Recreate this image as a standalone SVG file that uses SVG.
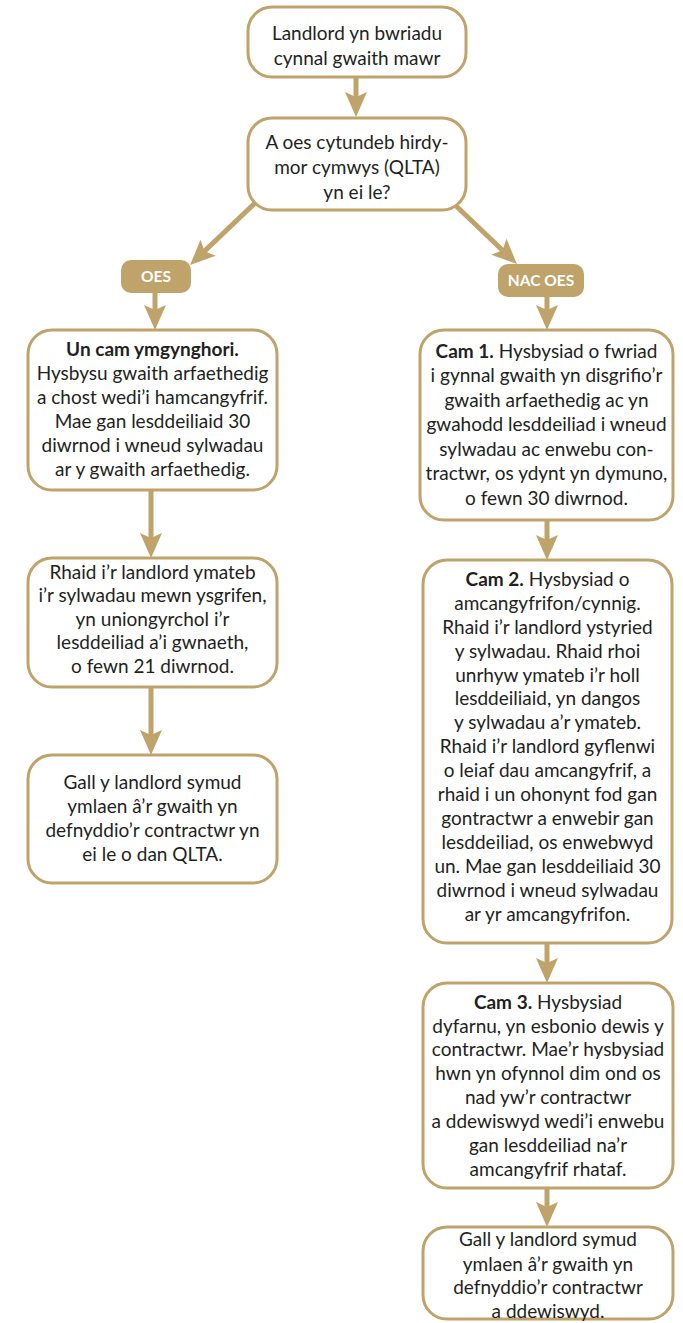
<svg xmlns="http://www.w3.org/2000/svg" width="683" height="1323" viewBox="0 0 683 1323">
<style>
.box{fill:#fff;stroke:#BFA36A;stroke-width:3}
.pill{fill:#BFA36A}
.t{font-family:Lato,"Open Sans","Liberation Sans",sans-serif;font-size:19px;fill:#231F20;text-anchor:middle}
.b{font-weight:bold}
.pt{font-family:Lato,"Open Sans","Liberation Sans",sans-serif;font-size:15.5px;font-weight:bold;fill:#fff;text-anchor:middle}
.c{stroke:#BFA36A;stroke-width:5;fill:none;marker-end:url(#ah)}
</style>
<defs>
<marker id="ah" markerUnits="userSpaceOnUse" markerWidth="30" markerHeight="30" viewBox="-12 -13 30 26" refX="0" refY="0" orient="auto">
<path d="M15,0 L-10,-11 L-5,0 L-10,11 Z" fill="#BFA36A"/>
</marker>
</defs>
<g id="connectors">
<line class="c" x1="356" y1="77" x2="356" y2="102"/>
<line class="c" x1="255" y1="203" x2="200.9" y2="254.6"/>
<line class="c" x1="453" y1="203" x2="506.1" y2="253.7"/>
<line class="c" x1="155" y1="293" x2="155" y2="315"/>
<line class="c" x1="547" y1="297" x2="547" y2="315"/>
<line class="c" x1="151" y1="490" x2="151" y2="543"/>
<line class="c" x1="151" y1="687" x2="151" y2="740"/>
<line class="c" x1="547" y1="520" x2="547" y2="545"/>
<line class="c" x1="547" y1="943" x2="547" y2="968"/>
<line class="c" x1="547" y1="1188" x2="547" y2="1212"/>
</g>
<g id="n1">
<rect class="box" x="248" y="7" width="218" height="70" rx="24"/>
<text class="t" x="357" y="40">Landlord yn bwriadu</text>
<text class="t" x="357" y="65">cynnal gwaith mawr</text>
</g>
<g id="n2">
<rect class="box" x="248" y="118" width="218" height="92" rx="24"/>
<text class="t" x="357" y="149">A oes cytundeb hirdy-</text>
<text class="t" x="357" y="174">mor cymwys (QLTA)</text>
<text class="t" x="357" y="199">yn ei le?</text>
</g>
<g id="oes">
<rect class="pill" x="121" y="260" width="70" height="33" rx="10"/>
<text class="pt" x="156" y="282">OES</text>
</g>
<g id="nacoes">
<rect class="pill" x="498" y="264" width="86" height="33" rx="10"/>
<text class="pt" x="541" y="286">NAC OES</text>
</g>
<g id="n3">
<rect class="box" x="28" y="330" width="249" height="160" rx="24"/>
<text class="t" x="152.5" y="356"><tspan class="b">Un cam ymgynghori.</tspan></text>
<text class="t" x="152.5" y="380">Hysbysu gwaith arfaethedig</text>
<text class="t" x="152.5" y="404">a chost wedi’i hamcangyfrif.</text>
<text class="t" x="152.5" y="428">Mae gan lesddeiliaid 30</text>
<text class="t" x="152.5" y="452">diwrnod i wneud sylwadau</text>
<text class="t" x="152.5" y="476">ar y gwaith arfaethedig.</text>
</g>
<g id="n5">
<rect class="box" x="28" y="558" width="249" height="129" rx="24"/>
<text class="t" x="152.5" y="579">Rhaid i’r landlord ymateb</text>
<text class="t" x="152.5" y="602">i’r sylwadau mewn ysgrifen,</text>
<text class="t" x="152.5" y="626">yn uniongyrchol i’r</text>
<text class="t" x="152.5" y="649">lesddeiliad a’i gwnaeth,</text>
<text class="t" x="152.5" y="673">o fewn 21 diwrnod.</text>
</g>
<g id="n6">
<rect class="box" x="28" y="755" width="249" height="128" rx="24"/>
<text class="t" x="152.5" y="789">Gall y landlord symud</text>
<text class="t" x="152.5" y="813">ymlaen â’r gwaith yn</text>
<text class="t" x="152.5" y="837">defnyddio’r contractwr yn</text>
<text class="t" x="152.5" y="861">ei le o dan QLTA.</text>
</g>
<g id="n4">
<rect class="box" x="420" y="330" width="253" height="190" rx="24"/>
<text class="t" x="546.5" y="358"><tspan class="b">Cam 1.</tspan> Hysbysiad o fwriad</text>
<text class="t" x="546.5" y="382">i gynnal gwaith yn disgrifio’r</text>
<text class="t" x="546.5" y="407">gwaith arfaethedig ac yn</text>
<text class="t" x="546.5" y="431">gwahodd lesddeiliad i wneud</text>
<text class="t" x="546.5" y="456">sylwadau ac enwebu con-</text>
<text class="t" x="546.5" y="480">tractwr, os ydynt yn dymuno,</text>
<text class="t" x="546.5" y="505">o fewn 30 diwrnod.</text>
</g>
<g id="n7">
<rect class="box" x="423" y="560" width="249" height="383" rx="24"/>
<text class="t" x="547.5" y="586"><tspan class="b">Cam 2.</tspan> Hysbysiad o</text>
<text class="t" x="547.5" y="610">amcangyfrifon/cynnig.</text>
<text class="t" x="547.5" y="634">Rhaid i’r landlord ystyried</text>
<text class="t" x="547.5" y="658">y sylwadau. Rhaid rhoi</text>
<text class="t" x="547.5" y="682">unrhyw ymateb i’r holl</text>
<text class="t" x="547.5" y="705">lesddeiliaid, yn dangos</text>
<text class="t" x="547.5" y="729">y sylwadau a’r ymateb.</text>
<text class="t" x="547.5" y="753">Rhaid i’r landlord gyflenwi</text>
<text class="t" x="547.5" y="777">o leiaf dau amcangyfrif, a</text>
<text class="t" x="547.5" y="801">rhaid i un ohonynt fod gan</text>
<text class="t" x="547.5" y="825">gontractwr a enwebir gan</text>
<text class="t" x="547.5" y="849">lesddeiliad, os enwebwyd</text>
<text class="t" x="547.5" y="873">un. Mae gan lesddeiliaid 30</text>
<text class="t" x="547.5" y="897">diwrnod i wneud sylwadau</text>
<text class="t" x="547.5" y="921">ar yr amcangyfrifon.</text>
</g>
<g id="n8">
<rect class="box" x="423" y="983" width="250" height="205" rx="24"/>
<text class="t" x="548" y="1009"><tspan class="b">Cam 3.</tspan> Hysbysiad</text>
<text class="t" x="548" y="1033">dyfarnu, yn esbonio dewis y</text>
<text class="t" x="548" y="1056">contractwr. Mae’r hysbysiad</text>
<text class="t" x="548" y="1080">hwn yn ofynnol dim ond os</text>
<text class="t" x="548" y="1104">nad yw’r contractwr</text>
<text class="t" x="548" y="1128">a ddewiswyd wedi’i enwebu</text>
<text class="t" x="548" y="1152">gan lesddeiliad na’r</text>
<text class="t" x="548" y="1176">amcangyfrif rhataf.</text>
</g>
<g id="n9">
<rect class="box" x="423" y="1227" width="250" height="92" rx="24"/>
<text class="t" x="548" y="1246">Gall y landlord symud</text>
<text class="t" x="548" y="1271">ymlaen â’r gwaith yn</text>
<text class="t" x="548" y="1294">defnyddio’r contractwr</text>
<text class="t" x="548" y="1318">a ddewiswyd.</text>
</g>
</svg>
